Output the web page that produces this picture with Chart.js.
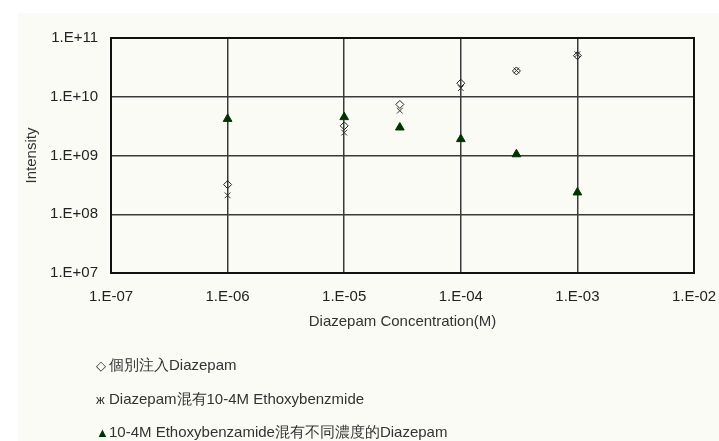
<!DOCTYPE html>
<html>
<head>
<meta charset="utf-8">
<script src="https://cdn.jsdelivr.net/npm/chart.js@4/dist/chart.umd.min.js"></script>
<style>
  html, body { margin: 0; padding: 0; background: #ffffff; }
  #wrap { position: relative; width: 719px; height: 441px; overflow: hidden; }
  #paper { position: absolute; left: 18px; top: 13px; right: 0; bottom: 0; background: #fbfbf5; }
  #chart { position: absolute; left: 0; top: 0; }
  #legend { position: absolute; left: 96px; top: 0; font: 15px "Liberation Sans", Arial, sans-serif; color: #333; }
  #legend div { position: absolute; white-space: nowrap; height: 20px; line-height: 20px; }
  #legend span.m { display: inline-block; width: 13px; font-size: 13px; }
</style>
</head>
<body>
<div id="wrap">
  <div id="paper"></div>
  <canvas id="chart" width="719" height="441"></canvas>
  <div id="legend"></div>
</div>
<script>
// concentrations (M)
const concentrations = [1e-6, 1e-5, 3e-5, 1e-4, 3e-4, 1e-3];

// intensities
const diazepamAlone = [3.2e8, 3.2e9, 7.4e9, 1.7e10, 2.75e10, 5.0e10];
const diazepamWithEthoxy = [2.1e8, 2.45e9, 5.8e9, 1.4e10, 2.8e10, 5.3e10];
const ethoxyWithDiazepam = [4.2e9, 4.5e9, 3.0e9, 1.9e9, 1.05e9, 2.35e8];

const seriesNames = [
  "個別注入Diazepam",
  "Diazepam混有10-4M Ethoxybenzmide",
  "10-4M Ethoxybenzamide混有不同濃度的Diazepam"
];

const xTickValues = [1e-7, 1e-6, 1e-5, 1e-4, 1e-3, 1e-2];
const xTickLabels = ["1.E-07", "1.E-06", "1.E-05", "1.E-04", "1.E-03", "1.E-02"];
const yTickValues = [1e7, 1e8, 1e9, 1e10, 1e11];
const yTickLabels = ["1.E+07", "1.E+08", "1.E+09", "1.E+10", "1.E+11"];

const FONT = '"Liberation Sans", Arial, sans-serif';

let toPoints = function(values) {
  return values.map((v, i) => ({x: concentrations[i], y: v}));
};

// frame round the plot area
const framePlugin = {
  id: "frame",
  beforeDatasetsDraw(chart) {
    const a = chart.chartArea;
    const ctx = chart.ctx;
    ctx.save();
    ctx.strokeStyle = "#111";
    ctx.lineWidth = 2;
    ctx.strokeRect(a.left, a.top, a.right - a.left, a.bottom - a.top);
    ctx.restore();
  }
};

new Chart("chart", {
  type: "scatter",
  data: {
    datasets: [
      {
        label: seriesNames[0],
        data: toPoints(diazepamAlone),
        pointStyle: "rectRot",
        pointRadius: 4,
        pointBorderWidth: 1,
        borderColor: "#222",
        backgroundColor: "rgba(0,0,0,0)"
      },
      {
        label: seriesNames[1],
        data: toPoints(diazepamWithEthoxy),
        pointStyle: "crossRot",
        pointRadius: 4,
        pointBorderWidth: 1,
        borderColor: "#333",
        backgroundColor: "#333"
      },
      {
        label: seriesNames[2],
        data: toPoints(ethoxyWithDiazepam),
        pointStyle: "triangle",
        pointRadius: 5,
        pointBorderWidth: 1,
        borderColor: "#003300",
        backgroundColor: "#003300"
      }
    ]
  },
  options: {
    responsive: false,
    animation: false,
    layout: { padding: { left: 0, top: 38, right: 0, bottom: 108 } },
    plugins: {
      legend: { display: false },
      tooltip: { enabled: false }
    },
    scales: {
      x: {
        type: "logarithmic",
        min: 1e-7,
        max: 1e-2,
        afterBuildTicks: function(scale) {
          scale.ticks = xTickValues.map(v => ({value: v}));
        },
        afterFit: function(scale) {
          scale.height = 60;
          scale.paddingLeft = 0;
          scale.paddingRight = 25;
        },
        ticks: {
          autoSkip: false,
          maxRotation: 0,
          padding: 15,
          color: "#222",
          font: { family: FONT, size: 15 },
          callback: function(value) {
            let i = xTickValues.findIndex(v => Math.abs(Math.log10(v) - Math.log10(value)) < 1e-6);
            return i >= 0 ? xTickLabels[i] : "";
          }
        },
        grid: { color: "#3a3a3a", lineWidth: 1.5, drawTicks: false },
        border: { display: false },
        title: {
          display: true,
          text: "Diazepam Concentration(M)",
          color: "#333",
          font: { family: FONT, size: 15 },
          padding: { top: 0, bottom: 2 }
        }
      },
      y: {
        type: "logarithmic",
        min: 1e7,
        max: 1e11,
        afterBuildTicks: function(scale) {
          scale.ticks = yTickValues.map(v => ({value: v}));
        },
        afterFit: function(scale) {
          scale.width = 111;
          scale.paddingTop = 0;
          scale.paddingBottom = 0;
        },
        ticks: {
          autoSkip: false,
          padding: 13,
          color: "#222",
          font: { family: FONT, size: 15 },
          callback: function(value) {
            let i = yTickValues.findIndex(v => Math.abs(Math.log10(v) - Math.log10(value)) < 1e-6);
            return i >= 0 ? yTickLabels[i] : "";
          }
        },
        grid: { color: "#3a3a3a", lineWidth: 1.5, drawTicks: false },
        border: { display: false },
        title: {
          display: true,
          text: "Intensity",
          color: "#333",
          font: { family: FONT, size: 15 },
          padding: { top: 23, bottom: 0 }
        }
      }
    }
  },
  plugins: [framePlugin]
});

// legend below the chart, one series per line
const legendMarks = ["◇", "ж", "▲"];
const legendColors = ["#222", "#333", "#003300"];
const legendTops = [355, 389, 422];
let legend = document.getElementById("legend");
seriesNames.forEach(function(name, i) {
  let row = document.createElement("div");
  row.style.top = legendTops[i] + "px";
  let mark = document.createElement("span");
  mark.className = "m";
  mark.style.color = legendColors[i];
  mark.textContent = legendMarks[i];
  row.appendChild(mark);
  row.appendChild(document.createTextNode(name));
  legend.appendChild(row);
});
</script>
</body>
</html>
